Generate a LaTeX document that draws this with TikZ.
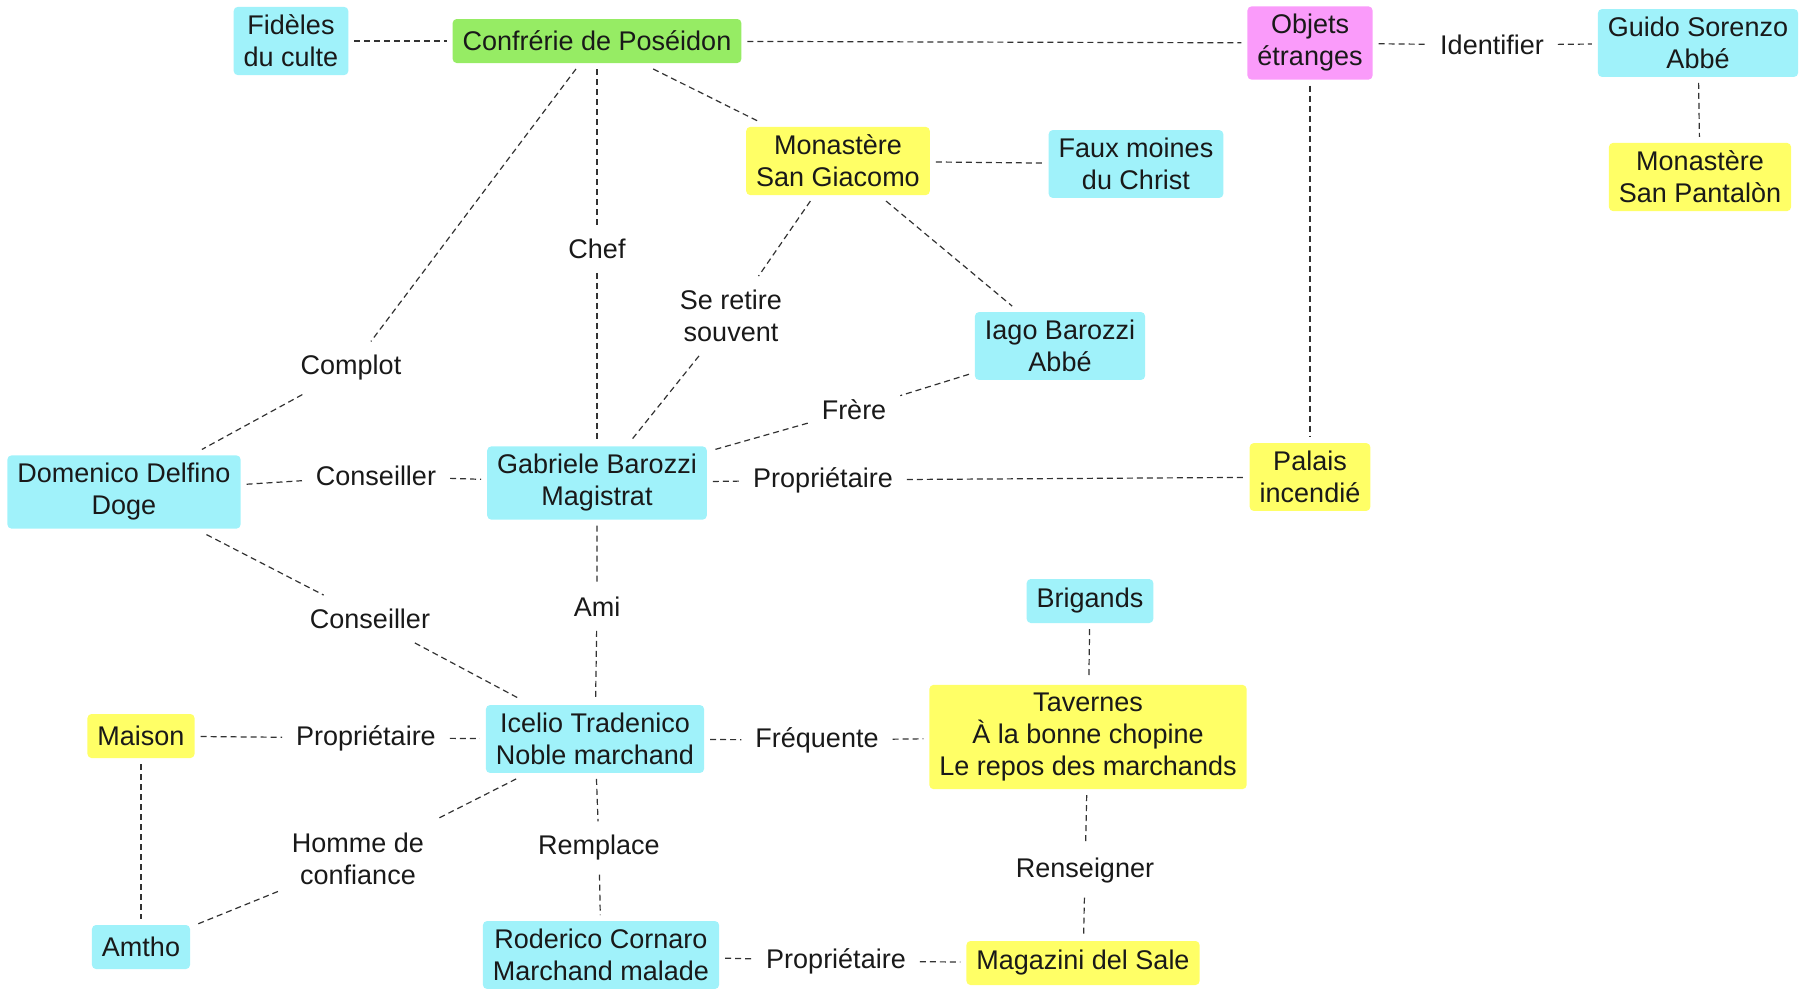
\documentclass[tikz,border=0pt]{standalone}
\usepackage{fontspec}
\setmainfont{Liberation Sans}
\definecolor{persocol}{RGB}{160,242,250}
\definecolor{lieucol}{RGB}{255,255,102}
\definecolor{groupecol}{RGB}{150,236,100}
\definecolor{objetcol}{RGB}{250,155,250}
\definecolor{linkcol}{RGB}{50,50,50}
\definecolor{textcol}{RGB}{25,25,25}
\begin{document}
\begin{tikzpicture}[x=0.5pt,y=-0.5pt,
  font=\fontsize{13.5}{16}\selectfont, text=textcol,
  box/.style={rounded corners=2pt,inner xsep=5pt,inner ysep=4pt,minimum height=22pt,align=center,outer sep=3pt},
  perso/.style={box,fill=persocol},
  lieu/.style={box,fill=lieucol},
  groupe/.style={box,fill=groupecol},
  objet/.style={box,fill=objetcol},
  etiq/.style={align=center,inner sep=2pt,outer sep=5pt},
  lien/.style={draw=linkcol,line width=0.6pt,dash pattern=on 3pt off 2pt}]
\useasboundingbox (0,0) rectangle (1804,991);

% Boxes
\node[perso]  (fideles)   at (291,41)   {Fidèles\\du culte};
\node[groupe] (confrerie) at (597,41)   {Confrérie de Poséidon};
\node[objet]  (objets)    at (1310,43)  {Objets\\étranges};
\node[perso]  (guido)     at (1698,43)  {Guido Sorenzo\\Abbé};
\node[lieu]   (pantalon)  at (1700,177) {Monastère\\San Pantalòn};
\node[lieu]   (giacomo)   at (838,161)  {Monastère\\San Giacomo};
\node[perso]  (faux)      at (1136,164) {Faux moines\\du Christ};
\node[perso]  (iago)      at (1060,346) {Iago Barozzi\\Abbé};
\node[perso]  (domenico)  at (124,492)  {Domenico Delfino\\Doge};
\node[perso]  (gabriele)  at (597,483)  {Gabriele Barozzi\\Magistrat};
\node[lieu]   (palais)    at (1310,477) {Palais\\incendié};
\node[perso]  (brigands)  at (1090,601) {Brigands};
\node[lieu]   (maison)    at (141,736)  {Maison};
\node[perso]  (icelio)    at (595,739)  {Icelio Tradenico\\Noble marchand};
\node[lieu]   (tavernes)  at (1088,737) {Tavernes\\À la bonne chopine\\Le repos des marchands};
\node[perso]  (amtho)     at (141,947)  {Amtho};
\node[perso]  (roderico)  at (601,955)  {Roderico Cornaro\\Marchand malade};
\node[lieu]   (magazini)  at (1083,963) {Magazini del Sale};

% Labels
\node[etiq] (identifier) at (1492,45)  {Identifier};
\node[etiq] (chef)       at (597,249)  {Chef};
\node[etiq] (seretire)   at (731,316)  {Se retire\\souvent};
\node[etiq] (complot)    at (351,368)  {Complot};
\node[etiq] (frere)      at (854,410)  {Frère};
\node[etiq] (conseilA)   at (376,476)  {Conseiller};
\node[etiq] (proprioA)   at (823,480)  {Propriétaire};
\node[etiq] (ami)        at (597,607)  {Ami};
\node[etiq] (conseilB)   at (370,619)  {Conseiller};
\node[etiq] (proprioB)   at (366,738)  {Propriétaire};
\node[etiq] (frequente)  at (817,740)  {Fréquente};
\node[etiq] (homme)      at (358,859)  {Homme de\\confiance};
\node[etiq] (remplace)   at (599,848)  {Remplace};
\node[etiq] (renseigner) at (1085,871) {Renseigner};
\node[etiq] (proprioC)   at (836,961)  {Propriétaire};

% Links
\draw[lien] (fideles) -- (confrerie);
\draw[lien] (confrerie) -- (objets);
\draw[lien] (objets) -- (identifier) -- (guido);
\draw[lien] (guido) -- (pantalon);
\draw[lien] (confrerie) -- (giacomo);
\draw[lien] (giacomo) -- (faux);
\draw[lien] (confrerie) -- (chef) -- (gabriele);
\draw[lien] (confrerie) -- (complot) -- (domenico);
\draw[lien] (giacomo) -- (seretire) -- (gabriele);
\draw[lien] (giacomo) -- (iago);
\draw[lien] (iago) -- (frere) -- (gabriele);
\draw[lien] (objets) -- (palais);
\draw[lien] (domenico) -- (conseilA) -- (gabriele);
\draw[lien] (gabriele) -- (proprioA) -- (palais);
\draw[lien] (gabriele) -- (ami) -- (icelio);
\draw[lien] (domenico) -- (conseilB) -- (icelio);
\draw[lien] (maison) -- (proprioB) -- (icelio);
\draw[lien] (icelio) -- (frequente) -- (tavernes);
\draw[lien] (brigands) -- (tavernes);
\draw[lien] (maison) -- (amtho);
\draw[lien] (icelio) -- (homme) -- (amtho);
\draw[lien] (icelio) -- (remplace) -- (roderico);
\draw[lien] (tavernes) -- (renseigner) -- (magazini);
\draw[lien] (roderico) -- (proprioC) -- (magazini);
\end{tikzpicture}
\end{document}
